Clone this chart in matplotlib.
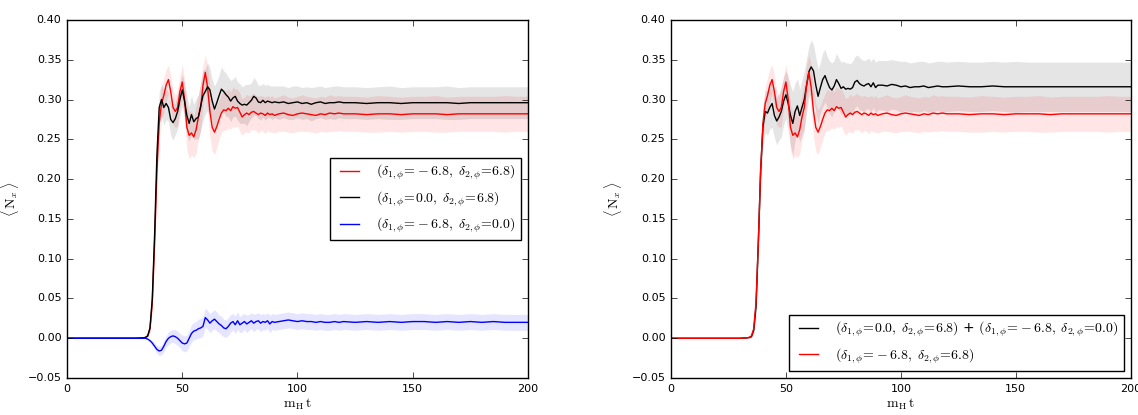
import matplotlib
matplotlib.use('Agg')
import matplotlib.pyplot as plt
import numpy as np

plt.style.use('classic')
plt.rcParams['font.family'] = ['DejaVu Sans']
plt.rcParams['mathtext.fontset'] = 'cm'

# time grid (m_H t)
T = ([0, 20, 30, 33, 34] + list(range(35, 91)) + list(range(92, 121, 2))
     + list(range(125, 201, 5)))

# (d1=-6.8, d2=6.8)
red = [0, 0, 0, 0.0005, 0.001,
       0.003, 0.012, 0.045, 0.12, 0.21, 0.27,
       0.295, 0.305, 0.318, 0.325, 0.31, 0.29, 0.285, 0.29, 0.31, 0.322,
       0.30, 0.265, 0.255, 0.258, 0.253, 0.262, 0.278, 0.29, 0.318, 0.334,
       0.315, 0.285, 0.265, 0.259, 0.266, 0.275, 0.283, 0.287, 0.286, 0.289,
       0.286, 0.291, 0.289, 0.29, 0.284, 0.278, 0.281, 0.283, 0.281, 0.284,
       0.285, 0.283, 0.281, 0.283, 0.282, 0.28, 0.283, 0.281, 0.282, 0.28,
       0.282, 0.283, 0.281, 0.28, 0.282, 0.283, 0.282, 0.281, 0.28, 0.282,
       0.281, 0.283, 0.282, 0.283, 0.282,
       0.282, 0.281, 0.282, 0.282, 0.281, 0.282, 0.282, 0.282, 0.281, 0.282,
       0.282, 0.282, 0.282, 0.282, 0.282, 0.282]
red_err = [0, 0, 0, 0, 0.001,
           0.002, 0.005, 0.01, 0.015, 0.02, 0.022,
           0.02, 0.022, 0.02, 0.018, 0.02, 0.022, 0.02, 0.024, 0.02, 0.022,
           0.025, 0.028, 0.03, 0.028, 0.026, 0.03, 0.028, 0.03, 0.025, 0.022,
           0.028, 0.032, 0.03, 0.028, 0.026, 0.025, 0.024, 0.026, 0.024, 0.025,
           0.023, 0.025, 0.024, 0.023, 0.024, 0.023, 0.022, 0.024, 0.023, 0.022,
           0.023, 0.022, 0.023, 0.022, 0.022, 0.023, 0.022, 0.022, 0.023, 0.022,
           0.022, 0.023, 0.022, 0.022, 0.022, 0.023, 0.022, 0.022, 0.022, 0.022,
           0.022, 0.023, 0.022, 0.022, 0.022,
           0.022, 0.022, 0.023, 0.022, 0.022, 0.022, 0.022, 0.023, 0.022, 0.022,
           0.022, 0.022, 0.022, 0.023, 0.022, 0.022]

# (d1=0.0, d2=6.8)
black = [0, 0, 0, 0.0005, 0.001,
         0.003, 0.013, 0.05, 0.13, 0.23, 0.29,
         0.30, 0.29, 0.295, 0.29, 0.275, 0.271, 0.276, 0.285, 0.30, 0.312,
         0.298, 0.28, 0.27, 0.281, 0.272, 0.276, 0.278, 0.292, 0.305, 0.31,
         0.316, 0.312, 0.298, 0.288, 0.296, 0.305, 0.313, 0.31, 0.306, 0.303,
         0.298, 0.302, 0.304, 0.298, 0.295, 0.293, 0.294, 0.293, 0.296, 0.299,
         0.304, 0.302, 0.297, 0.296, 0.299, 0.296, 0.298, 0.297, 0.296, 0.297,
         0.296, 0.297, 0.295, 0.296, 0.297, 0.295, 0.296, 0.294, 0.296, 0.297,
         0.295, 0.296, 0.296, 0.297, 0.296,
         0.296, 0.295, 0.296, 0.296, 0.295, 0.296, 0.296, 0.296, 0.296, 0.295,
         0.296, 0.296, 0.296, 0.296, 0.296, 0.296]
black_err = [0, 0, 0, 0, 0.001,
             0.002, 0.005, 0.01, 0.015, 0.018, 0.02,
             0.02, 0.022, 0.02, 0.018, 0.02, 0.022, 0.02, 0.022, 0.02, 0.02,
             0.022, 0.025, 0.022, 0.024, 0.022, 0.025, 0.028, 0.03, 0.032, 0.028,
             0.03, 0.028, 0.027, 0.029, 0.027, 0.026, 0.028, 0.026, 0.027, 0.025,
             0.026, 0.024, 0.025, 0.024, 0.025, 0.023, 0.024, 0.026, 0.023, 0.022,
             0.024, 0.022, 0.021, 0.022, 0.021, 0.022, 0.021, 0.02, 0.021, 0.02,
             0.021, 0.02, 0.02, 0.021, 0.02, 0.02, 0.02, 0.021, 0.02, 0.02,
             0.02, 0.02, 0.021, 0.02, 0.02,
             0.02, 0.02, 0.02, 0.021, 0.02, 0.02, 0.02, 0.02, 0.021, 0.02,
             0.02, 0.02, 0.02, 0.02, 0.02, 0.02]

# (d1=-6.8, d2=0.0)
blue = [0, 0, 0, 0, 0,
        -0.001, -0.003, -0.006, -0.01, -0.014, -0.016,
        -0.015, -0.01, -0.004, 0.0, 0.002, 0.003, 0.002, 0.0, -0.003, -0.006,
        -0.007, -0.006, 0.0, 0.006, 0.009, 0.01, 0.012, 0.013, 0.015, 0.026,
        0.023, 0.019, 0.022, 0.024, 0.021, 0.018, 0.016, 0.013, 0.012, 0.015,
        0.019, 0.021, 0.017, 0.022, 0.017, 0.019, 0.021, 0.018, 0.02, 0.022,
        0.019, 0.021, 0.022, 0.019, 0.021, 0.02, 0.022, 0.018, 0.021, 0.02,
        0.021, 0.022, 0.023, 0.022, 0.021, 0.022, 0.021, 0.021, 0.02, 0.021,
        0.02, 0.02, 0.021, 0.02, 0.021,
        0.02, 0.021, 0.02, 0.021, 0.02, 0.021, 0.021, 0.02, 0.021, 0.02,
        0.021, 0.02, 0.021, 0.02, 0.02, 0.02]
blue_err = [0, 0, 0, 0, 0,
            0.001, 0.002, 0.003, 0.004, 0.005, 0.006,
            0.006, 0.007, 0.007, 0.008, 0.008, 0.008, 0.009, 0.009, 0.009, 0.01,
            0.01, 0.01, 0.01, 0.011, 0.011, 0.011, 0.012, 0.012, 0.012, 0.012,
            0.012, 0.012, 0.012, 0.012, 0.012, 0.011, 0.012, 0.011, 0.011, 0.011,
            0.011, 0.01, 0.011, 0.011, 0.01, 0.011, 0.01, 0.011, 0.01, 0.01,
            0.011, 0.01, 0.01, 0.011, 0.01, 0.01, 0.01, 0.011, 0.01, 0.01,
            0.01, 0.01, 0.01, 0.01, 0.01, 0.01, 0.01, 0.01, 0.01, 0.01,
            0.01, 0.01, 0.01, 0.01, 0.01,
            0.01, 0.01, 0.01, 0.01, 0.01, 0.01, 0.01, 0.01, 0.01, 0.01,
            0.01, 0.01, 0.01, 0.01, 0.01, 0.01]

# (d1=0.0, d2=6.8) + (d1=-6.8, d2=0.0)
summed = [0, 0, 0, 0.0005, 0.001,
          0.002, 0.01, 0.04, 0.12, 0.21, 0.265,
          0.285, 0.283, 0.29, 0.295, 0.28, 0.273, 0.278, 0.285, 0.298, 0.306,
          0.295, 0.28, 0.27, 0.285, 0.292, 0.28, 0.29, 0.30, 0.318, 0.335,
          0.341, 0.336, 0.318, 0.304, 0.315, 0.325, 0.33, 0.322, 0.315, 0.312,
          0.317, 0.325, 0.32, 0.314, 0.316, 0.313, 0.314, 0.313, 0.315, 0.322,
          0.324, 0.32, 0.318, 0.317, 0.319, 0.32, 0.316, 0.321, 0.315, 0.318,
          0.318, 0.317, 0.319, 0.318, 0.316, 0.317, 0.315, 0.316, 0.316, 0.317,
          0.315, 0.316, 0.317, 0.316, 0.316,
          0.317, 0.316, 0.316, 0.317, 0.316, 0.316, 0.316, 0.316, 0.316, 0.316,
          0.316, 0.316, 0.316, 0.316, 0.316, 0.316]
summed_err = [0, 0, 0, 0, 0.001,
              0.002, 0.006, 0.012, 0.018, 0.022, 0.025,
              0.026, 0.028, 0.027, 0.03, 0.028, 0.03, 0.029, 0.032, 0.03, 0.03,
              0.034, 0.038, 0.04, 0.036, 0.034, 0.033, 0.035, 0.036, 0.034, 0.032,
              0.034, 0.033, 0.035, 0.034, 0.032, 0.034, 0.033, 0.032, 0.033, 0.034,
              0.032, 0.033, 0.032, 0.033, 0.032, 0.033, 0.032, 0.032, 0.033, 0.032,
              0.032, 0.033, 0.032, 0.032, 0.031, 0.032, 0.032, 0.031, 0.032, 0.031,
              0.031, 0.032, 0.031, 0.031, 0.032, 0.031, 0.031, 0.031, 0.032, 0.031,
              0.031, 0.031, 0.031, 0.032, 0.031,
              0.031, 0.031, 0.031, 0.031, 0.031, 0.032, 0.031, 0.031, 0.031, 0.031,
              0.031, 0.031, 0.031, 0.031, 0.031, 0.031]

YTICKS = [-0.05, 0.0, 0.05, 0.10, 0.15, 0.20, 0.25, 0.30, 0.35, 0.40]
YTICKLABELS = ['\u22120.05', '0.00', '0.05', '0.10', '0.15', '0.20',
               '0.25', '0.30', '0.35', '0.40']
XTICKS = [0, 50, 100, 150, 200]

LAB_RED = r'$(\delta_{1,\phi}\!=\!-6.8,\;\delta_{2,\phi}\!=\!6.8)$'
LAB_BLACK = r'$(\delta_{1,\phi}\!=\!0.0,\;\delta_{2,\phi}\!=\!6.8)$'
LAB_BLUE = r'$(\delta_{1,\phi}\!=\!-6.8,\;\delta_{2,\phi}\!=\!0.0)$'
LAB_SUM = LAB_BLACK + ' + ' + LAB_BLUE

t = np.array(T)


def band(ax, y, e, color, label):
    y = np.array(y); e = np.array(e)
    ax.fill_between(t, y - e, y + e, color=color, alpha=0.1, linewidth=0)
    ax.plot(t, y, color=color, lw=1.0, label=label)


fig = plt.figure(figsize=(11.38, 4.15), dpi=100, facecolor='white')
ax1 = fig.add_axes([0.0589, 0.089, 0.405, 0.863])
ax2 = fig.add_axes([0.5896, 0.089, 0.404, 0.863])

band(ax1, red, red_err, 'r', LAB_RED)
band(ax1, black, black_err, 'k', LAB_BLACK)
band(ax1, blue, blue_err, 'b', LAB_BLUE)

band(ax2, summed, summed_err, 'k', LAB_SUM)
band(ax2, red, red_err, 'r', LAB_RED)

for ax in (ax1, ax2):
    ax.set_xlim(0, 200)
    ax.set_ylim(-0.05, 0.40)
    ax.set_xticks(XTICKS)
    ax.set_yticks(YTICKS)
    ax.set_yticklabels(YTICKLABELS)
    ax.tick_params(labelsize=8, direction='in', length=4)
    ax.set_xlabel(r'$\mathrm{m}_\mathrm{H}\,\mathrm{t}$', fontsize=10, labelpad=2)
    ax.set_ylabel(r'$\langle\,\mathrm{N}_x\,\rangle$', fontsize=10)

ax1.legend(loc='center right', fontsize=10, handlelength=2.0,
           handletextpad=0.9, borderaxespad=0.5, fancybox=False)
ax2.legend(loc='lower right', fontsize=10, handlelength=2.0,
           handletextpad=0.9, borderaxespad=0.5, fancybox=False)

fig.savefig('out.png', dpi=100, facecolor='white')
plt.close(fig)
print('Saved: out.png')
